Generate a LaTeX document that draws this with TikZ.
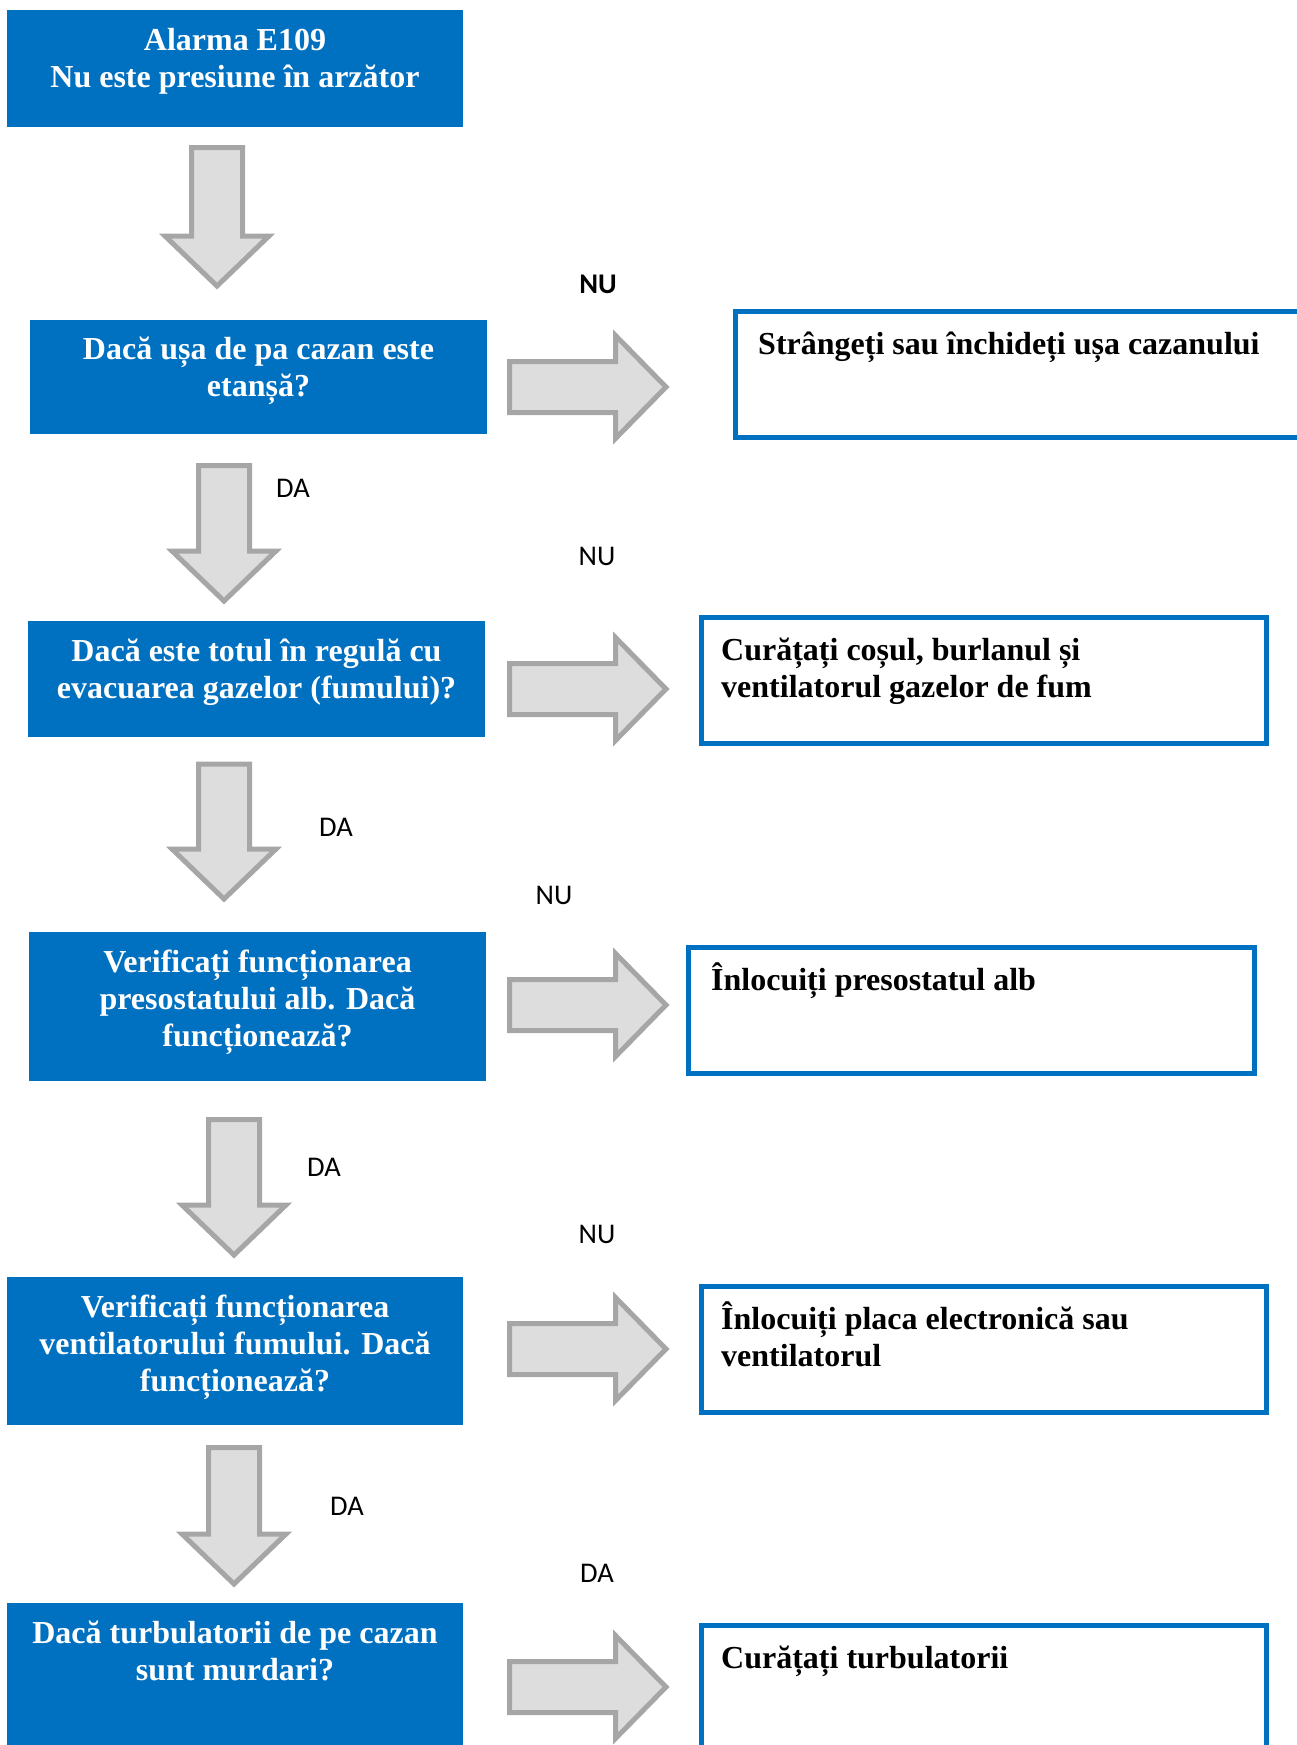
\documentclass[tikz,border=0pt]{standalone}
\usepackage{fontspec}
\setmainfont{Liberation Serif}
\newfontfamily\lblfont{Carlito}
\definecolor{myblue}{HTML}{0070C0}
\definecolor{arrfill}{HTML}{DDDDDD}
\definecolor{arrdraw}{HTML}{A6A6A6}
\newcommand\myst{\rule{0pt}{30pt}}
\newcommand\darr[3]{% center x, top, tip (centerline)
  \draw[garrow] ({#1-25.5},{#2}) -- ({#1+25.5},{#2}) -- ({#1+25.5},{#3-50}) -- ({#1+52},{#3-50})
    -- ({#1},{#3}) -- ({#1-52},{#3-50}) -- ({#1-25.5},{#3-50}) -- cycle;}
\newcommand\rarr[1]{% tip y
  \draw[garrow] (509.5,{#1-25.5}) -- (615.5,{#1-25.5}) -- (615.5,{#1-51.5}) -- (666,{#1})
    -- (615.5,{#1+51.5}) -- (615.5,{#1+25.5}) -- (509.5,{#1+25.5}) -- cycle;}
\tikzset{
  qbox/.style={rectangle, fill=myblue, draw=none, inner sep=0pt, outer sep=0pt},
  abox/.style={rectangle, fill=white, draw=myblue, line width=5pt, inner sep=0pt},
  qtext/.style={text=white, inner sep=0pt, align=center, anchor=north,
    font=\bfseries\fontsize{32}{37}\selectfont},
  atext/.style={text=black, inner sep=0pt, align=left, anchor=north west,
    font=\bfseries\fontsize{32}{37}\selectfont},
  lbl/.style={inner sep=0pt, font=\lblfont\fontsize{28.5}{33}\selectfont},
  garrow/.style={fill=arrfill, draw=arrdraw, line width=5pt, miter limit=10},
}
\begin{document}
\begin{tikzpicture}[x=1pt, y=-1pt]
\useasboundingbox (0,0) rectangle (1297,1745);
\clip (0,0) rectangle (1297,1745);

% question boxes
\node[qbox, minimum width=456pt, minimum height=117pt] (b1) at (235,68.5) {};
\node[qbox, minimum width=457pt, minimum height=114pt] (b2) at (258.5,377) {};
\node[qbox, minimum width=457pt, minimum height=116pt] (b3) at (256.5,679) {};
\node[qbox, minimum width=457pt, minimum height=149pt] (b4) at (257.5,1006.5) {};
\node[qbox, minimum width=456pt, minimum height=148pt] (b5) at (235,1351) {};
\node[qbox, minimum width=456pt, minimum height=157pt] (b6) at (235,1681.5) {};

\node[qtext] (t1) at ([yshift=-10pt]b1.north) {\myst Alarma E109\\Nu este presiune în arzător};
\node[qtext] (t2) at ([yshift=-9pt]b2.north) {\myst Dacă ușa de pa cazan este\\etanșă?};
\node[qtext] (t3) at ([yshift=-10pt]b3.north) {\myst Dacă este totul în regulă cu\\evacuarea gazelor (fumului)?};
\node[qtext] (t4) at ([yshift=-10pt]b4.north) {\myst Verificați funcționarea\\presostatului alb. Dacă\\funcționează?};
\node[qtext] (t5) at ([yshift=-10pt]b5.north) {\myst Verificați funcționarea\\ventilatorului fumului. Dacă\\funcționează?};
\node[qtext] (t6) at ([yshift=-10pt]b6.north) {\myst Dacă turbulatorii de pe cazan\\sunt murdari?};

% answer boxes
\node[abox, minimum width=572pt, minimum height=126pt] (r1) at (1021.5,374.5) {};
\node[abox, minimum width=565pt, minimum height=126pt] (r2) at (984,680.5) {};
\node[abox, minimum width=566pt, minimum height=126pt] (r3) at (971.5,1010.5) {};
\node[abox, minimum width=565pt, minimum height=126pt] (r4) at (984,1349.5) {};
\node[abox, minimum width=565pt, minimum height=152pt] (r5) at (984,1701.5) {};

\node[atext] (s1) at ([xshift=25pt, yshift=-15pt]r1.north west) {\myst Strângeți sau închideți ușa cazanului};
\node[atext] (s2) at ([xshift=22pt, yshift=-15pt]r2.north west) {\myst Curățați coșul, burlanul și\\ventilatorul gazelor de fum};
\node[atext] (s3) at ([xshift=25pt, yshift=-15pt]r3.north west) {\myst Înlocuiți presostatul alb};
\node[atext] (s4) at ([xshift=22pt, yshift=-15pt]r4.north west) {\myst Înlocuiți placa electronică sau\\ventilatorul};
\node[atext] (s5) at ([xshift=22pt, yshift=-15pt]r5.north west) {\myst Curățați turbulatorii};

% block arrows
\darr{217}{147.5}{286}
\darr{224}{465.5}{601}
\darr{224}{764}{899}
\darr{234}{1119.5}{1255}
\darr{234}{1447.5}{1584}
\rarr{387}
\rarr{689}
\rarr{1005}
\rarr{1349}
\rarr{1687}

% labels
\node[lbl, font=\lblfont\bfseries\fontsize{28.5}{33}\selectfont] (n1) at (598,284) {NU};
\node[lbl] (n2) at (597,556) {NU};
\node[lbl] (n3) at (554,895) {NU};
\node[lbl] (n4) at (597,1234) {NU};
\node[lbl] (d1) at (293,488) {DA};
\node[lbl] (d2) at (336,827) {DA};
\node[lbl] (d3) at (324,1167) {DA};
\node[lbl] (d4) at (347,1506) {DA};
\node[lbl] (d5) at (597,1573) {DA};
\end{tikzpicture}
\end{document}
